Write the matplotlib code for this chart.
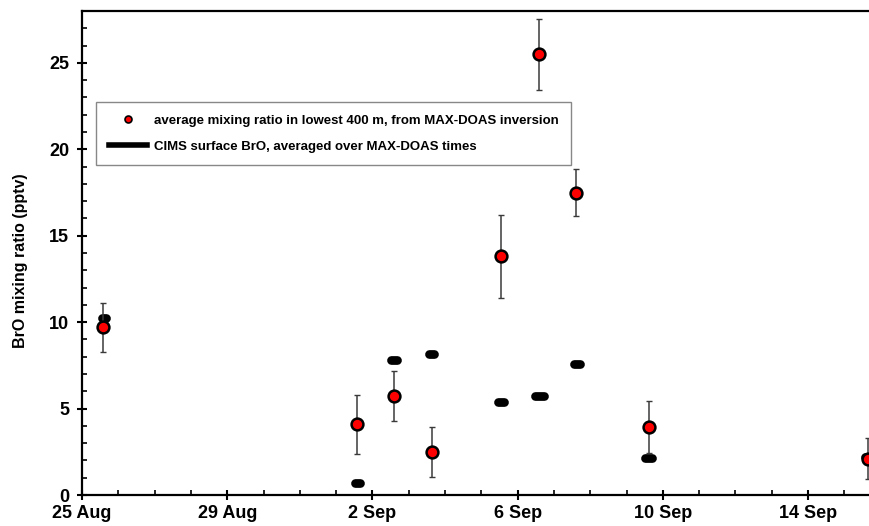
import numpy as np
import pandas as pd
import matplotlib
matplotlib.use("Agg")
import matplotlib.pyplot as plt
import matplotlib.dates as mdates
from matplotlib.lines import Line2D

plt.rcParams['font.family'] = ['Liberation Sans', 'DejaVu Sans']
plt.rcParams['font.weight'] = 'bold'

# Times are in days since 25 Aug 00:00
start = pd.Timestamp('2016-08-25')

# MAX-DOAS average mixing ratio in the lowest 400 m
doas_day = [0.57, 7.58, 8.59, 9.63, 11.53, 12.60, 13.62, 15.62, 21.66]
doas_bro = [9.7, 4.1, 5.75, 2.5, 13.8, 25.5, 17.5, 3.95, 2.1]
doas_err = [1.42, 1.7, 1.45, 1.45, 2.4, 2.05, 1.38, 1.5, 1.2]

# CIMS surface BrO averaged over the MAX-DOAS times (start / end of averaging)
cims_start = [0.54, 7.53, 8.50, 9.55, 11.46, 12.48, 13.54, 15.52, 21.58]
cims_end = [0.67, 7.65, 8.68, 9.70, 11.62, 12.72, 13.71, 15.71, 21.75]
cims_bro = [10.23, 0.67, 7.8, 8.14, 5.38, 5.71, 7.56, 2.12, 2.21]

tick_dates = ['2016-08-25', '2016-08-29', '2016-09-02', '2016-09-06', '2016-09-10', '2016-09-14']
tick_labels = ['25 Aug', '29 Aug', '2 Sep', '6 Sep', '10 Sep', '14 Sep']

def to_time(days):
    return start + pd.to_timedelta(np.asarray(days), unit='D')

fig = plt.figure(figsize=(8.69, 5.26), dpi=100)
# axes run a little past the right edge of the figure, like the cropped original
ax = fig.add_axes([82/869, 31/526, 798.6/869, 484/526])

# CIMS: short thick horizontal bars over the averaging window
for s, e, v in zip(to_time(cims_start), to_time(cims_end), cims_bro):
    ax.plot([s, e], [v, v], color='black', lw=6.3, solid_capstyle='round', zorder=2)

# MAX-DOAS points with error bars
ax.errorbar(to_time(doas_day), doas_bro, yerr=doas_err, fmt='none',
            ecolor='#3a3a3a', elinewidth=1.1, capsize=2.2, capthick=1.0, zorder=3)
ax.plot(to_time(doas_day), doas_bro, 'o', color='red', ms=8.5,
        markeredgecolor='black', markeredgewidth=1.8, zorder=4)

ax.set_xlim(start, start + pd.Timedelta(days=22))
ax.set_ylim(0, 28)

ax.set_xticks(pd.to_datetime(tick_dates))
ax.set_xticklabels(tick_labels)
ax.xaxis.set_minor_locator(mdates.DayLocator())
ax.set_yticks(np.arange(0, 30, 5))
ax.yaxis.set_minor_locator(plt.MultipleLocator(1))

ax.tick_params(which='major', direction='inout', length=6.5, width=1.5,
               labelsize=13, pad=4)
ax.tick_params(axis='y', which='major', pad=6)
ax.tick_params(which='minor', direction='in', length=3.5, width=1.2)
for lab in ax.get_xticklabels() + ax.get_yticklabels():
    lab.set_fontweight('bold')

for side in ['left', 'bottom', 'top', 'right']:
    ax.spines[side].set_linewidth(1.6)

ax.set_ylabel('BrO mixing ratio (pptv)', fontsize=11.5, fontweight='bold')
ax.yaxis.set_label_coords(-0.068, 0.485)

handles = [
    Line2D([], [], ls='none', marker='o', color='red', ms=5,
           markeredgecolor='black', markeredgewidth=1.2),
    Line2D([], [], color='black', lw=4),
]
labels = ['average mixing ratio in lowest 400 m, from MAX-DOAS inversion',
          'CIMS surface BrO, averaged over MAX-DOAS times']
leg = ax.legend(handles, labels, loc='upper left',
                bbox_to_anchor=(96/869, 1 - 102/526), bbox_transform=fig.transFigure,
                borderaxespad=0, fancybox=False, framealpha=1, edgecolor='#888888',
                prop={'size': 9.5, 'weight': 'bold'}, handlelength=2.9,
                handletextpad=0.55, borderpad=0.95, labelspacing=1.05)
leg.get_frame().set_linewidth(1.0)

fig.savefig('out.png', dpi=100)
